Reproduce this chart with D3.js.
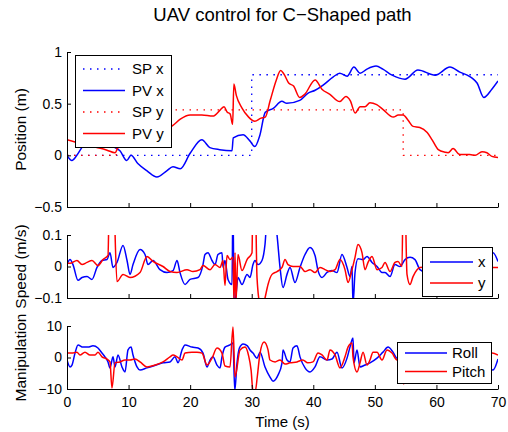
<!DOCTYPE html>
<html>
<head>
<meta charset="utf-8">
<script src="https://cdn.jsdelivr.net/npm/d3@7"></script>
<style>
body { margin: 0; background: #fff; }
svg { font-family: "Liberation Sans", Arial, Helvetica, sans-serif; }
</style>
</head>
<body>
<div id="chart"></div>
<script>
// ---- data: [time (s), value] ----
var timeTicks = [0, 10, 20, 30, 40, 50, 60, 70];
var posTicks = [-0.5, 0, 0.5, 1];
var speedTicks = [-0.1, 0, 0.1];
var manipTicks = [-10, 0, 10];

var spX = [[0, 0], [30, 0], [30, 0.78], [70, 0.78]];
var spY = [[0, 0], [8, 0], [8, 0.44], [54.6, 0.44], [54.6, 0], [70, 0]];

var pvX = [[0,0],[0.8,-0.05],[1.6,0],[2.6,0.09],[3.5,0.13],[4.5,0.15],[5.5,0.14],[6.5,0.12],[7.3,0.1],[7.8,0.075],
  [8.6,0.045],[9.7,-0.05],[10.4,0],[11.5,-0.08],[13,-0.15],[14.6,-0.21],[16.2,-0.15],[17.2,-0.11],[18.4,-0.13],
  [20,0.02],[21.9,0.15],[23.2,0.075],[24.8,0.055],[26.8,0.045],[27,0.17],[28.6,0.2],[29.7,0.14],[30.5,0.085],
  [31.3,0.19],[32.2,0.416],[33.5,0.455],[34.9,0.523],[35.7,0.503],[37.8,0.532],[39.1,0.6],[40.3,0.63],[41.6,0.68],
  [43.2,0.757],[44.3,0.795],[45.5,0.766],[46.6,0.854],[47.6,0.795],[48.7,0.834],[50.2,0.864],[51.3,0.834],
  [52.8,0.776],[54.9,0.737],[57,0.825],[59.8,0.776],[62.2,0.854],[63.8,0.805],[65,0.776],[65.8,0.747],[66.6,0.7],
  [67.7,0.56],[69,0.64],[70,0.72]];

var pvY = [[0,0.15],[1.3,0.13],[2.5,0.12],[3.5,0.1],[4.5,0.08],[5.4,0.068],[6.5,0.05],[7.8,0.025],[8.3,0.075],
  [10,0.12],[12,0.17],[14,0.21],[15.5,0.24],[16.7,0.27],[17.2,0.29],[18.4,0.35],[20,0.39],[21.9,0.39],[23.7,0.38],
  [24.9,0.44],[25.5,0.47],[26,0.42],[26.5,0.4],[26.9,0.3],[27.1,0.69],[27.5,0.58],[28.4,0.46],[29.5,0.37],
  [30.5,0.33],[31.5,0.36],[32.2,0.37],[33,0.53],[34,0.73],[34.7,0.82],[35.2,0.79],[36,0.7],[36.8,0.67],
  [37.8,0.56],[38.6,0.59],[40.3,0.73],[41.4,0.64],[42.7,0.59],[44.3,0.52],[45.3,0.57],[46,0.53],[46.8,0.41],
  [47.6,0.47],[48.4,0.47],[49.2,0.51],[50.3,0.49],[51.3,0.445],[53,0.37],[53.8,0.39],[54.6,0.39],[55.4,0.34],
  [56.2,0.28],[57.3,0.27],[58.5,0.22],[59.3,0.15],[60.3,0.055],[61.4,0.03],[61.9,0.025],[62.7,0.065],
  [63.8,0.007],[65.4,0.007],[66.3,0],[67.4,0.035],[68.2,0.025],[69,-0.01],[70,-0.02]];

var speedX = [[0,0.006],[0.49,0.022],[0.97,0.006],[1.79,-0.044],[2.44,-0.035],[3.25,-0.032],[4.06,-0.041],
  [4.87,-0.003],[5.68,0.019],[6.5,0.022],[6.98,0.044],[7.47,-0.003],[8.12,0.013],[9.1,0.067],[9.75,0.019],
  [10.23,-0.025],[10.72,0.006],[11.86,0.054],[12.67,0.038],[13.16,0.006],[13.97,0.019],[15.1,-0.01],
  [16.24,-0.019],[17.22,-0.013],[17.87,0.019],[18.35,-0.019],[19.17,-0.057],[19.98,-0.041],[21.28,-0.035],
  [22.09,0.006],[22.41,0.038],[22.9,0.044],[23.55,0.019],[24.04,0.006],[24.52,0.038],[25.17,0.044],
  [25.34,-0.003],[25.66,0.019],[26.15,-0.041],[26.8,-0.057],[26.95,0.2],[27.15,-0.13],[27.45,-0.089],
  [27.77,-0.035],[28.42,-0.057],[29.24,-0.025],[29.72,-0.035],[30.21,0.006],[30.53,0.019],[31.02,0.006],
  [31.67,0.019],[32.16,0.07],[32.65,0.2],[33.3,0.2],[34.11,0.1],[34.6,-0.003],[35.08,-0.067],[35.73,-0.025],
  [36.22,-0.003],[37.03,-0.051],[37.84,-0.003],[38.66,0.038],[39.47,0.06],[40.28,0.035],[40.77,-0.013],
  [41.42,-0.035],[42.23,-0.019],[43.04,-0.013],[43.85,-0.019],[44.66,0.038],[45.48,-0.003],[45.96,-0.032],
  [46.29,0],[46.45,-0.12],[46.78,-0.019],[47.26,0.025],[48.08,0.022],[48.73,0.032],[49.54,0.013],[50.35,0],
  [51.16,-0.019],[51.65,-0.019],[52.46,-0.032],[53.27,0.006],[54.08,0],[54.9,0.022],[55.71,0.029],
  [56.52,0.022],[57.33,-0.01],[58.5,-0.02],[60,0],[62,0.01],[64,-0.005],[66,0.01],[67.5,0.03],[69.19,0.044],
  [70,0.016]];

var speedY = [[0,0.01],[0.49,0.01],[1.62,0.019],[2.44,0.006],[3.25,0.013],[4.06,0.019],[5.03,0.003],
  [5.85,0.022],[6.66,0.035],[6.9,0.25],[7.5,0.25],[8.12,-0.048],[9.1,-0.025],[10.23,-0.035],[11.86,-0.019],
  [12.99,0.032],[13.97,0.016],[15.59,0],[16.73,-0.016],[17.87,-0.019],[19.49,-0.01],[20.46,-0.016],
  [21.6,-0.01],[22.09,0.003],[23.23,-0.01],[24.04,0.006],[24.85,-0.003],[25.34,0.019],[25.66,-0.06],
  [25.99,0.035],[26.47,0.022],[26.96,0.029],[27.12,-0.11],[27.29,0.044],[27.45,-0.11],[27.77,0.038],
  [28.42,-0.013],[29.24,0.022],[30.05,0.044],[30.2,0.25],[30.55,0.25],[30.86,-0.035],[31.35,-0.12],
  [31.8,-0.13],[32.16,-0.1],[32.65,-0.057],[33.3,-0.025],[34.11,-0.016],[34.92,-0.003],[35.41,0.022],
  [35.89,0.006],[36.71,0],[37.84,0],[38.66,-0.016],[39.47,-0.01],[40.28,-0.019],[41.09,-0.003],[41.9,-0.01],
  [42.72,-0.016],[43.53,-0.01],[44.34,0.022],[45.15,-0.01],[45.64,-0.051],[46.29,-0.01],[46.78,0.029],
  [47.26,0.07],[47.91,0.044],[48.4,-0.01],[48.89,0.013],[49.54,0.032],[50.35,-0.01],[51.16,-0.003],
  [51.65,0.013],[52.46,-0.016],[53.27,0.013],[53.76,0.016],[54.41,0],[54.6,0.25],[54.85,0.25],[55.22,-0.025],
  [55.71,-0.057],[56.2,-0.032],[56.85,-0.01],[57.33,-0.003],[60,0],[64,-0.005],[67,0],[69.19,-0.003],[70,-0.003]];

var roll = [[0,-0.8],[0.49,-3],[0.81,-2.4],[1.3,1.4],[1.79,4],[2.6,3.3],[3.41,3.3],[4.22,3.7],[5.03,3],
  [5.68,1.4],[6.17,0.2],[6.66,-1.4],[6.98,-3.3],[7.47,0.2],[7.8,-3],[8.28,0.8],[8.93,-3],[9.42,-4.6],[9.91,2.4],
  [10.4,3.3],[10.72,0.8],[11.37,-3],[11.86,-4],[12.99,-3.3],[14,-2.7],[15.59,-1.7],[16.73,-1.4],[17.54,0.2],
  [18.03,-1.7],[18.68,2.4],[19.17,4],[20.3,3.3],[21.28,3],[22.09,1.4],[22.74,-3],[23.23,-0.8],[23.71,0.2],
  [24.36,-2.4],[24.85,-3.3],[25.17,0.2],[25.66,3.3],[26.47,4],[26.96,4.6],[27.25,-10.5],[27.6,-2],[28,3],
  [28.6,4.3],[29.3,3.7],[29.72,2.4],[30.21,1.4],[30.86,-0.2],[31.35,1.7],[32.16,-3],[32.97,-6.2],[33.46,-7.5],
  [34.27,-5.6],[34.92,-1.7],[35.08,2.4],[35.73,-0.8],[36.22,-1.4],[36.71,3],[37.36,3.7],[37.84,0.2],[38.66,-3.3],
  [39.47,-4.6],[40.28,-3],[41.09,0.2],[42.23,-0.8],[43.04,-0.5],[43.85,1.7],[44.66,-3.3],[45.48,-0.2],[45.96,3.3],
  [46.45,6.2],[46.61,-1.7],[47.1,2.4],[47.59,-3],[48.4,-2.4],[49.21,-1.7],[50.35,-0.2],[51.32,1.7],[52.14,3.3],
  [52.95,1.7],[53.6,-0.2],[56,0.5],[60,0],[64,-1],[67,-2],[69.19,-4],[70,-0.5]];

var pitch = [[0,1.4],[0.81,1.4],[1.62,1.7],[2.11,0.8],[2.92,1.7],[3.73,0.8],[4.55,0.8],[5.03,1.7],[5.68,0.2],
  [6.5,-0.5],[6.98,-1.4],[7.3,-9.7],[7.8,-1.7],[8.61,-1.4],[9.42,-0.8],[10.23,-0.8],[11.05,-0.5],[11.86,-1.4],
  [12.99,-3],[14.29,-2.4],[15.59,-1.4],[16.73,0.2],[17.22,0.8],[17.87,0.2],[18.68,-0.8],[19.17,1.4],[20.3,1.7],
  [21.11,1.7],[21.93,1.4],[22.74,-2.4],[23.55,-0.2],[24.36,3],[25.17,1.4],[25.66,-2.7],[26.47,-3],[26.96,9.7],
  [27.29,-6.2],[28.1,2.4],[28.91,3.3],[29.5,0.5],[29.9,-4],[30.2,-10.5],[30.6,-10.5],[30.9,-6.2],[31.35,1.4],
  [32,4.9],[32.65,2.4],[32.97,-0.8],[33.8,-1.4],[34.6,-0.8],[35.4,-2.1],[36.2,-1.7],[37.36,-1.4],[38.3,-0.8],
  [39.1,-1.7],[39.95,-1.4],[40.77,1.4],[41.42,0.8],[42.23,-0.8],[42.72,2.4],[43.53,0.8],[44.34,-3.3],[45.15,0.2],
  [45.64,3.3],[46.29,4.6],[46.45,0.2],[47.1,-4.6],[47.59,-1.7],[48.08,1.7],[48.73,-2.4],[49.21,-0.8],[49.7,1.7],
  [50.35,1.7],[51.16,-0.8],[51.97,2.4],[52.79,1.4],[53.6,-0.8],[54.4,0.5],[54.7,-8.5],[55.1,-1],[57,0.5],
  [62,1],[66,0.5],[69.03,1.4],[70,0.8]];

// ---- layout ----
var svgWidth = 508;
var svgHeight = 432;
var plotLeft = 67;
var plotRight = 498;
var blue = "#0000ff";
var red = "#ff0000";
var dotted = "1.5,5.5";

var svg = d3.select("#chart")
    .append("svg")
    .attr("width", svgWidth)
    .attr("height", svgHeight);

var xScale = d3.scaleLinear().domain([0, 70]).range([plotLeft, plotRight]);
var fmt = d3.format("");

var panels = [
    { id: "pos", top: 52, bottom: 207, domain: [-0.5, 1], ticks: posTicks, label: "Position (m)", xLabels: false,
      series: [
        { data: spX, color: blue, dash: dotted, curve: d3.curveLinear },
        { data: pvX, color: blue, curve: d3.curveMonotoneX },
        { data: spY, color: red, dash: dotted, curve: d3.curveLinear },
        { data: pvY, color: red, curve: d3.curveMonotoneX }
      ],
      legend: { x: 75, y: 55, w: 96, h: 92, lineX0: 83, lineX1: 125, textX: 132, rowY: 69, step: 21.5,
        items: [["SP x", blue, dotted], ["PV x", blue], ["SP y", red, dotted], ["PV y", red]] } },
    { id: "spd", top: 235, bottom: 298, domain: [-0.1, 0.1], ticks: speedTicks, label: "Speed (m/s)", xLabels: false,
      series: [
        { data: speedX, color: blue, curve: d3.curveMonotoneX },
        { data: speedY, color: red, curve: d3.curveMonotoneX }
      ],
      legend: { x: 422, y: 247, w: 70, h: 49, lineX0: 430, lineX1: 473, textX: 478, rowY: 262, step: 21,
        items: [["x", blue], ["y", red]] } },
    { id: "man", top: 326, bottom: 389, domain: [-10, 10], ticks: manipTicks, label: "Manipulation", xLabels: true,
      series: [
        { data: roll, color: blue, curve: d3.curveMonotoneX },
        { data: pitch, color: red, curve: d3.curveMonotoneX }
      ],
      legend: { x: 397, y: 342, w: 94, h: 41, lineX0: 405, lineX1: 447, textX: 452, rowY: 353, step: 18.5,
        items: [["Roll", blue], ["Pitch", red]] } }
];

panels.forEach(function(p) {
    var yScale = d3.scaleLinear().domain(p.domain).range([p.bottom, p.top]);

    svg.append("clipPath")
        .attr("id", "clip-" + p.id)
        .append("rect")
        .attr("x", plotLeft)
        .attr("y", p.top)
        .attr("width", plotRight - plotLeft)
        .attr("height", p.bottom - p.top);

    var lineGroup = svg.append("g").attr("clip-path", "url(#clip-" + p.id + ")");

    p.series.forEach(function(s) {
        var line = d3.line()
            .x(d => xScale(d[0]))
            .y(d => yScale(d[1]))
            .curve(s.curve);
        lineGroup.append("path")
            .datum(s.data)
            .attr("d", line)
            .attr("fill", "none")
            .attr("stroke", s.color)
            .attr("stroke-width", s.dash ? 1.3 : 1.5)
            .attr("stroke-dasharray", s.dash || null)
            .attr("stroke-linejoin", "round");
    });

    // axes: left and bottom only, ticks pointing inward
    var xAxis = d3.axisBottom(xScale)
        .tickValues(timeTicks)
        .tickSizeInner(-4)
        .tickSizeOuter(0)
        .tickPadding(8)
        .tickFormat(p.xLabels ? fmt : "");
    var yAxis = d3.axisLeft(yScale)
        .tickValues(p.ticks)
        .tickSizeInner(-4)
        .tickSizeOuter(0)
        .tickPadding(5)
        .tickFormat(fmt);

    var gx = svg.append("g")
        .attr("transform", `translate(0, ${p.bottom})`)
        .call(xAxis);
    var gy = svg.append("g")
        .attr("transform", `translate(${plotLeft}, 0)`)
        .call(yAxis);

    [gx, gy].forEach(function(g) {
        g.selectAll("path, line").attr("stroke", "#000");
        g.selectAll("text").attr("font-size", "14px").attr("fill", "#000")
            .attr("font-family", "'Liberation Sans', Arial, sans-serif");
    });

    // y label
    svg.append("text")
        .attr("transform", `translate(26, ${(p.top + p.bottom) / 2}) rotate(-90)`)
        .attr("text-anchor", "middle")
        .attr("font-size", "15.5px")
        .text(p.label);

    // legend
    var L = p.legend;
    var lg = svg.append("g");
    lg.append("rect")
        .attr("x", L.x + 0.5)
        .attr("y", L.y + 0.5)
        .attr("width", L.w)
        .attr("height", L.h)
        .attr("fill", "#fff")
        .attr("stroke", "#000");
    L.items.forEach(function(it, i) {
        var yy = L.rowY + i * L.step;
        lg.append("line")
            .attr("x1", L.lineX0).attr("x2", L.lineX1)
            .attr("y1", yy).attr("y2", yy)
            .attr("stroke", it[1])
            .attr("stroke-width", it[2] ? 1.3 : 1.5)
            .attr("stroke-dasharray", it[2] || null);
        lg.append("text")
            .attr("x", L.textX)
            .attr("y", yy)
            .attr("dy", "0.36em")
            .attr("font-size", "15px")
            .text(it[0]);
    });
});

// title and x label
svg.append("text")
    .attr("x", (plotLeft + plotRight) / 2)
    .attr("y", 21)
    .attr("text-anchor", "middle")
    .attr("font-size", "18.5px")
    .text("UAV control for C\u2212Shaped path");

svg.append("text")
    .attr("x", (plotLeft + plotRight) / 2)
    .attr("y", 427)
    .attr("text-anchor", "middle")
    .attr("font-size", "15px")
    .text("Time (s)");
</script>
</body>
</html>
